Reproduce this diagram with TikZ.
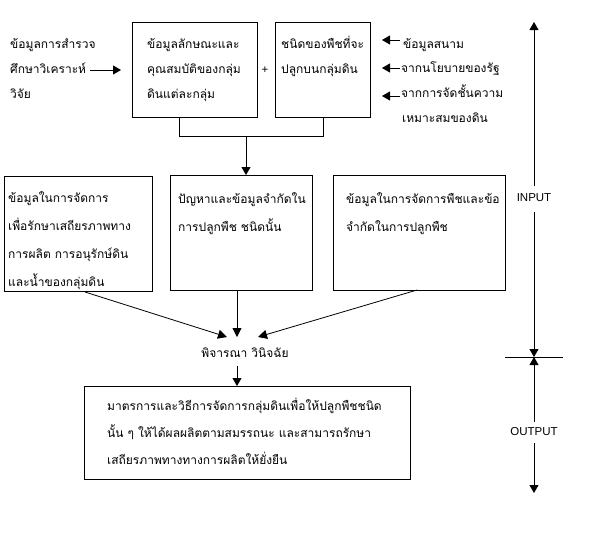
\documentclass[tikz,border=0pt]{standalone}
\usepackage{fontspec}
\setmainfont{Liberation Sans}
\newfontfamily\thai[Script=Thai]{Loma}
\usetikzlibrary{arrows.meta}
\newcommand\mlines[2]{\vtop{\baselineskip=#1\lineskiplimit=-20pt\lineskip=0pt\relax #2}}
\tikzset{
  box/.style={draw, line width=0.8pt, anchor=north west, inner sep=0pt},
  txt/.style={anchor=base west, inner sep=0pt, font=\thai\fontsize{12}{14}\selectfont},
  lat/.style={inner sep=0pt, font=\fontsize{11.5}{13}\selectfont},
  arr/.style={line width=0.8pt, -{Triangle[length=8pt,width=9pt]}},
  ln/.style={line width=0.8pt}
}
\begin{document}
\begin{tikzpicture}[x=1pt,y=-1pt]
\useasboundingbox[fill=white] (0,0) rectangle (597,547);
% top boxes
\node[box, minimum width=125pt, minimum height=95pt] (A) at (132,22) {};
\node[box, minimum width=95pt, minimum height=95pt] (B) at (275,22) {};
\node[txt] (At) at (147,48) {\mlines{25pt}{\hbox{ข้อมูลลักษณะและ}\hbox{คุณสมบัติของกลุ่ม}\hbox{ดินแต่ละกลุ่ม}}};
\node[txt] (Bt) at (281,48) {\mlines{25pt}{\hbox{ชนิดของพืชที่จะ}\hbox{ปลูกบนกลุ่มดิน}}};
\node[lat] (plus) at (265,70) {+};
% left text
\node[txt] (L) at (10,48) {\mlines{25pt}{\hbox{ข้อมูลการสำรวจ}\hbox{ศึกษาวิเคราะห์}\hbox{วิจัย}}};
\coordinate (la) at (90,70);
\coordinate (lb) at (121,70);
\draw[arr] (la) -- (lb);
% right texts
\node[txt] (R1) at (403,48) {ข้อมูลสนาม};
\node[txt] (R2) at (401,72) {จากนโยบายของรัฐ};
\node[txt] (R3) at (401,97) {จากการจัดชั้นความ};
\node[txt] (R4) at (402,122) {เหมาะสมของดิน};
\coordinate (r1) at (400,40);
\coordinate (r2) at (400,68);
\coordinate (r3) at (400,96);
\draw[arr] (r1) -- (382,40);
\draw[arr] (r2) -- (382,68);
\draw[arr] (r3) -- (382,96);
% bracket
\coordinate (k1) at (179,136);
\coordinate (k2) at (323,136);
\coordinate (k3) at (246,136);
\draw[ln] (179,117) -- (k1) -- (k2) -- (323,117);
% middle boxes
\node[box, minimum width=148pt, minimum height=115pt] (C) at (4,176) {};
\node[box, minimum width=142pt, minimum height=115pt] (D) at (170,175) {};
\node[box, minimum width=172pt, minimum height=115pt] (E) at (333,175) {};
\draw[arr] (k3) -- (k3 |- D.north);
\node[txt] (Ct) at (8,202) {\mlines{28pt}{\hbox{ข้อมูลในการจัดการ}\hbox{เพื่อรักษาเสถียรภาพทาง}\hbox{การผลิต การอนุรักษ์ดิน}\hbox{และน้ำของกลุ่มดิน}}};
\node[txt] (Dt) at (178,203) {\mlines{28pt}{\hbox{ปัญหาและข้อมูลจำกัดใน}\hbox{การปลูกพืช ชนิดนั้น}}};
\node[txt] (Et) at (346,203) {\mlines{28pt}{\hbox{ข้อมูลในการจัดการพืชและข้อ}\hbox{จำกัดในการปลูกพืช}}};
% decision
\node[txt, anchor=base] (P) at (245,357) {พิจารณา วินิจฉัย};
\coordinate (p1) at (227,337);
\coordinate (p2) at (237,337);
\coordinate (p3) at (258,337);
\draw[ln, -{Triangle[length=9pt,width=9pt]}] (85,292) -- (p1);
\draw[ln, -{Triangle[length=9pt,width=9pt]}] (237,290) -- (p2);
\draw[ln, -{Triangle[length=9pt,width=9pt]}] (417,290) -- (p3);
% output box
\node[box, minimum width=326pt, minimum height=93pt] (F) at (84,386) {};
\coordinate (p4) at (237,366);
\draw[arr] (p4) -- (p4 |- F.north);
\node[txt] (Ft) at (107,410) {\mlines{27pt}{\hbox{มาตรการและวิธีการจัดการกลุ่มดินเพื่อให้ปลูกพืชชนิด}\hbox{นั้น ๆ ให้ได้ผลผลิตตามสมรรถนะ และสามารถรักษา}\hbox{เสถียรภาพทางทางการผลิตให้ยั่งยืน}}};
% right axis
\node[lat] (IN) at (534,198) {INPUT};
\node[lat] (OUT) at (534,432) {OUTPUT};
\coordinate (top) at (534,22);
\coordinate (mid) at (534,357);
\coordinate (bot) at (534,493);
\draw[arr] (IN.north |- 0,186) -- (top);
\draw[arr] (IN.south |- 0,212) -- (mid);
\draw[arr] (OUT.north |- 0,422) -- (mid);
\draw[arr] (OUT.south |- 0,443) -- (bot);
\draw[ln] (505,357) -- (563,357);
\end{tikzpicture}
\end{document}
